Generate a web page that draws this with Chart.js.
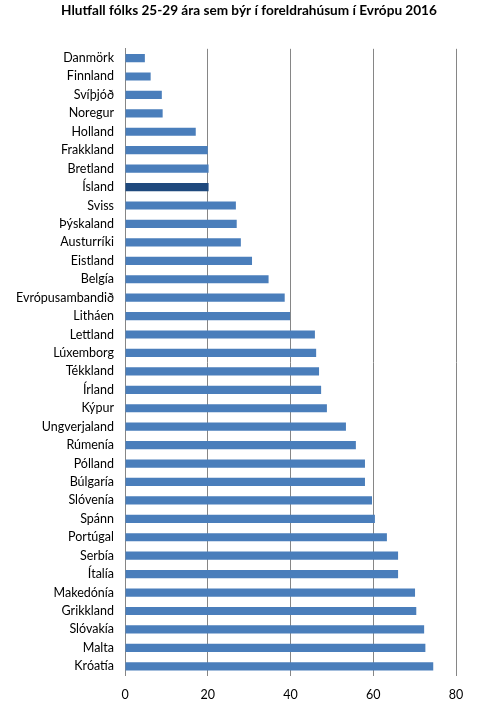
<!DOCTYPE html>
<html>
<head>
<meta charset="utf-8">
<script src="https://cdn.jsdelivr.net/npm/chart.js@4/dist/chart.umd.min.js"></script>
<style>
html,body{margin:0;padding:0;background:#fff;}
#wrap{width:498px;height:708px;position:relative;}
</style>
</head>
<body>
<div id="wrap"><canvas id="c" width="498" height="708"></canvas></div>
<script>
const titleText = 'Hlutfall fólks 25-29 ára sem býr í foreldrahúsum í Evrópu 2016';
const countries = ['Danmörk','Finnland','Svíþjóð','Noregur','Holland','Frakkland','Bretland','Ísland','Sviss','Þýskaland','Austurríki','Eistland','Belgía','Evrópusambandið','Litháen','Lettland','Lúxemborg','Tékkland','Írland','Kýpur','Ungverjaland','Rúmenía','Pólland','Búlgaría','Slóvenía','Spánn','Portúgal','Serbía','Ítalía','Makedónía','Grikkland','Slóvakía','Malta','Króatía'];
const shares = [4.8,6.2,8.9,9.1,17.1,20.0,20.2,20.2,26.8,27.0,28.0,30.7,34.7,38.6,39.9,45.9,46.2,46.9,47.4,48.8,53.4,55.8,58.0,58.0,59.7,60.4,63.3,66.0,66.0,70.1,70.4,72.3,72.6,74.5];
const highlighted = 'Ísland';
const xTicks = [0,20,40,60,80];

const baseColor = '#4a7ebb';
const highlightColor = '#1f497d';
const fontFamily = 'Lato, "Open Sans", sans-serif';

const centerTitle = {
  id: 'centerTitle',
  afterLayout(chart) {
    const t = chart.titleBlock;
    if (t) { t.left = 0; t.right = chart.width; t.width = chart.width; }
  }
};

new Chart(document.getElementById('c'), {
  type: 'bar',
  plugins: [centerTitle],
  data: {
    labels: countries,
    datasets: [{
      data: shares,
      backgroundColor: countries.map(c => c === highlighted ? highlightColor : baseColor),
      borderWidth: 0,
      barPercentage: 0.444,
      categoryPercentage: 1.0
    }]
  },
  options: {
    indexAxis: 'y',
    responsive: false,
    animation: false,
    devicePixelRatio: 1,
    layout: { padding: { left: 0, right: 42, top: 0, bottom: 0 } },
    plugins: {
      legend: { display: false },
      tooltip: { enabled: false },
      title: {
        display: true,
        text: titleText,
        color: '#000',
        font: { family: fontFamily, size: 13.6, weight: 'bold', lineHeight: 1.2 },
        padding: { top: 2, bottom: 30.5 }
      }
    },
    scales: {
      x: {
        min: 0, max: 80,
        afterBuildTicks: axis => { axis.ticks = xTicks.map(v => ({ value: v })); },
        afterFit: axis => { axis.height = 32.5; },
        grid: { color: '#868686', lineWidth: 1, drawTicks: false },
        border: { display: false },
        ticks: { color: '#000', font: { family: fontFamily, size: 12.5 }, padding: 12 }
      },
      y: {
        afterFit: axis => { axis.width = 125; },
        grid: { display: false, drawTicks: false },
        border: { display: true, color: '#868686', width: 1 },
        ticks: { color: '#000', font: { family: fontFamily, size: 12.5 }, padding: 11, autoSkip: false }
      }
    }
  }
});
</script>
</body>
</html>
